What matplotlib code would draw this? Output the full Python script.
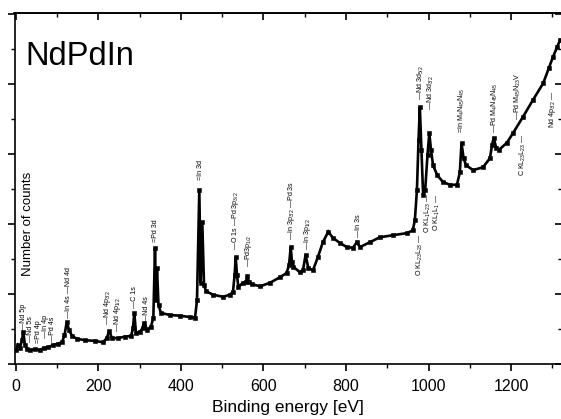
import matplotlib
matplotlib.use("Agg")
import matplotlib.pyplot as plt
from matplotlib.ticker import MultipleLocator, NullFormatter

plt.rcParams['font.family'] = ['Liberation Sans', 'DejaVu Sans']
plt.rcParams['mathtext.fontset'] = 'custom'
plt.rcParams['mathtext.rm'] = 'Liberation Sans'
plt.rcParams['mathtext.it'] = 'Liberation Sans:italic'

# XPS survey spectrum (binding energy in eV, counts in thousands, arbitrary)
energy = [0, 4.8, 9.7, 14.5, 17.7, 21.8, 26.7, 34, 46, 58, 68, 77.6, 90, 102, 111.5,
          117.6, 123, 128.5, 135.8, 148, 167, 191.5, 211, 220, 226, 232.7, 247, 264,
          279, 283.6, 286.8, 291, 300.6, 306.7, 311, 317.6, 327, 333, 337, 339.4,
          341.8, 345.5, 351.5, 373, 397.6, 421.8, 434, 438.8, 444.4, 447.8, 451.6,
          455.8, 460.6, 477.6, 501.8, 518.8, 526, 530, 532.6, 535.8, 539, 550, 557.6,
          560.7, 564.8, 572, 591.5, 615.8, 640, 656, 661.8, 666, 669, 672, 688.5,
          695.8, 702, 708.6, 720, 732, 744, 757, 768.5, 785, 802, 817, 826, 834, 858,
          882, 914, 948, 962, 967, 972, 975.8, 979, 983, 987, 992, 997.6, 1002, 1006,
          1011, 1021, 1035, 1052, 1069, 1076, 1080, 1085, 1091, 1108, 1132, 1149,
          1154, 1158, 1164, 1171, 1190, 1205, 1229, 1253, 1278, 1292, 1302, 1312, 1319]
counts = [2.0, 2.7, 2.3, 3.4, 4.6, 2.7, 2.1, 2.0, 2.1, 2.0, 2.3, 2.4, 2.7, 2.9, 3.1,
          4.1, 6.0, 4.9, 4.0, 3.6, 3.4, 3.3, 3.1, 3.7, 4.7, 3.7, 3.7, 3.9,
          4.0, 5.1, 7.3, 4.4, 4.6, 5.1, 5.9, 4.9, 5.3, 6.6, 16.6, 9.1,
          13.7, 8.4, 7.3, 7.0, 6.9, 6.7, 6.6, 9.1, 24.9, 11.6, 20.3,
          11.3, 10.4, 9.9, 9.6, 9.9, 10.3, 12.7, 15.3, 12.7, 11.0, 11.6, 11.7,
          12.6, 11.7, 11.4, 11.1, 11.6, 12.4, 13.0, 14.1, 16.7, 14.6, 13.9, 13.1,
          13.4, 15.6, 13.7, 13.4, 15.3, 17.4, 18.9, 18.0, 17.3, 16.7, 16.6, 17.4, 16.7, 17.4,
          18.1, 18.4, 18.7, 19.1, 20.6, 24.9, 32.0, 36.7, 30.6, 24.1, 24.9, 29.9, 33.0, 30.6,
          28.4, 27.0, 26.0, 25.6, 25.6, 27.4, 31.6, 29.4, 28.4, 27.7, 28.1, 29.4,
          31.3, 32.3, 30.9, 30.6, 31.6, 33.0, 35.3, 37.7, 40.1, 42.3, 43.9, 45.3, 46.3]

# Peak labels anchored at their lower end
label_texts = ["—", "—Nd 5p", "—Nd 5s", "=Pd 4p", "—In 4p", "—Pd 4s", "—In 4s —Nd 4d",
               "—Nd 4p$_{3/2}$", "—Nd 4p$_{1/2}$", "—C 1s", "—Nd 4s", "=Pd 3d", "=In 3d",
               "—O 1s —Pd 3p$_{3/2}$", "—Pd3p$_{1/2}$", "—In 3p$_{3/2}$ —Pd 3s",
               "—In 3p$_{1/2}$", "—In 3s", "—Nd 3d$_{5/2}$", "—Nd 3d$_{3/2}$",
               "=In M$_4$N$_{45}$N$_{45}$", "—Pd M$_4$N$_{45}$N$_{45}$", "—Pd M$_{45}$N$_{23}$V"]
label_e = [3, 19.4, 35.6, 54, 72.7, 89, 126.8, 222, 247, 288.5, 316.8, 338, 447,
           531, 563, 668, 707, 830, 982.5, 1004.6, 1080.5, 1161, 1217.7]
label_y = [3.4, 4.9, 3.1, 3.0, 3.7, 3.1, 6.6, 5.6, 4.6, 8.0, 6.0, 17.4, 26.3,
           16.3, 13.9, 17.7, 16.3, 18.1, 37.7, 36.3, 33.0, 33.0, 34.9]

# Auger labels anchored at their upper end
auger_texts = ["O KL$_{23}$L$_{23}$ —", "O KL$_1$L$_{23}$ —", "O KL$_1$L$_1$ —",
               "C KL$_{23}$L$_{23}$ —", "Nd 4p$_{3/2}$ —"]
auger_e = [979, 998.5, 1020, 1229, 1300.6]
auger_y = [18.7, 24.4, 24.4, 33.0, 39.1]

W, H = 561, 419
fig = plt.figure(figsize=(W / 100, H / 100), dpi=100)
ax = fig.add_axes([14.5 / W, (H - 364) / H, 547 / W, 350.5 / H])

ax.plot(energy, counts, color='black', lw=1.9, marker='s', ms=2.4,
        markeredgewidth=0.4, solid_joinstyle='miter')

ax.set_xlim(-3.6, 1322.4)
ax.set_ylim(0, 50.07)

for s in ax.spines.values():
    s.set_linewidth(1.2)

ax.xaxis.set_major_locator(MultipleLocator(200))
ax.xaxis.set_minor_locator(MultipleLocator(100))
ax.yaxis.set_major_locator(MultipleLocator(10))
ax.yaxis.set_minor_locator(MultipleLocator(5))
ax.yaxis.set_major_formatter(NullFormatter())
ax.tick_params(axis='x', which='major', direction='out', length=5, width=1.2,
               labelsize=11.5, pad=6)
ax.tick_params(axis='x', which='minor', direction='out', length=3, width=1.0)
ax.tick_params(axis='y', which='major', direction='out', length=5, width=1.2)
ax.tick_params(axis='y', which='minor', direction='out', length=3, width=1.0)

secx = ax.secondary_xaxis('top')
secx.xaxis.set_major_locator(MultipleLocator(200))
secx.xaxis.set_minor_locator(MultipleLocator(100))
secx.tick_params(axis='x', which='major', direction='in', length=5, width=1.2, labeltop=False)
secx.tick_params(axis='x', which='minor', direction='in', length=3, width=1.0)
secx.spines['top'].set_linewidth(1.2)

secy = ax.secondary_yaxis('right')
secy.yaxis.set_major_locator(MultipleLocator(10))
secy.yaxis.set_minor_locator(MultipleLocator(5))
secy.tick_params(axis='y', which='major', direction='in', length=5, width=1.2, labelright=False)
secy.tick_params(axis='y', which='minor', direction='in', length=3, width=1.0)

ax.set_xlabel("Binding energy [eV]", fontsize=12.5, labelpad=4)

ax.text(28 / W, (H - 224) / H, "Number of counts", transform=fig.transFigure,
        rotation=90, ha='center', va='center', fontsize=9.5)
ax.text(25 / W, (H - 65) / H, "NdPdIn", transform=fig.transFigure,
        ha='left', va='baseline', fontsize=23.5)

for t, e, y in zip(label_texts, label_e, label_y):
    ax.text(e, y, t, rotation=90, ha='center', va='bottom', fontsize=5.1)
for t, e, y in zip(auger_texts, auger_e, auger_y):
    ax.text(e, y, t, rotation=90, ha='center', va='top', fontsize=5.1)

fig.savefig("out.png", dpi=100)
